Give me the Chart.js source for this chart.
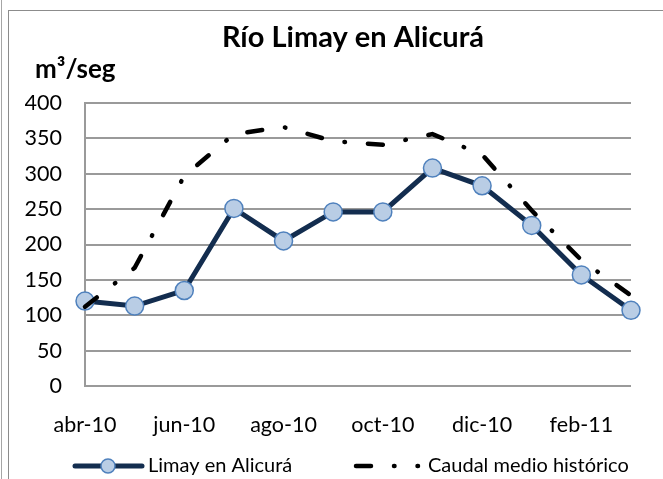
<!DOCTYPE html>
<html>
<head>
<meta charset="utf-8">
<script src="https://cdn.jsdelivr.net/npm/chart.js@4.4.1/dist/chart.umd.min.js"></script>
<style>
    body { margin: 0; background: #fff; }
    #wrap { position: relative; width: 663px; height: 479px; overflow: hidden; }
    .edge { position: absolute; left: 1px; top: 0; width: 1px; height: 479px; background: #a6a6a6; }
    .frame { position: absolute; left: 8px; top: 10px; width: 700px; height: 520px; border: 1.5px solid #8c8c8c; }
    canvas { position: absolute; left: 0; top: 0; }
</style>
</head>
<body>
<div id="wrap">
    <div class="edge"></div>
    <div class="frame"></div>
    <canvas id="chart" width="663" height="479"></canvas>
</div>
<script>
// Monthly flow data (m3/seg)
const months = ['abr-10', 'may-10', 'jun-10', 'jul-10', 'ago-10', 'sep-10',
                'oct-10', 'nov-10', 'dic-10', 'ene-11', 'feb-11', 'mar-11'];
const limayValues = [120, 113, 135, 251, 205, 246, 246, 308, 283, 227, 157, 107];
const historicValues = [112, 167, 297, 356, 366, 346, 341, 356, 327, 248, 178, 128];
const xTickLabels = ['abr-10', 'jun-10', 'ago-10', 'oct-10', 'dic-10', 'feb-11'];
const yTickValues = [0, 50, 100, 150, 200, 250, 300, 350, 400];

const chartTitle = 'Río Limay en Alicurá';
const unitLabel = 'm³/seg';
const limayName = 'Limay en Alicurá';
const historicName = 'Caudal medio histórico';

const navy = '#132d4f';
const histDash = [15, 23, 0.5, 23];
const fontFamily = 'Lato, "Open Sans", sans-serif';

// Title, unit label and legend are drawn by hand to sit where the original has them
const decorPlugin = {
    id: 'decor',
    afterDraw(chart) {
        const ctx = chart.ctx;
        ctx.save();
        ctx.fillStyle = '#000';
        ctx.textBaseline = 'alphabetic';

        ctx.font = 'bold 29px ' + fontFamily;
        ctx.textAlign = 'center';
        ctx.fillText(chartTitle, 353, 47);

        ctx.font = 'bold 26px ' + fontFamily;
        ctx.textAlign = 'left';
        ctx.fillText(unitLabel, 35, 78);

        // legend item 1
        const ly = 466;
        ctx.strokeStyle = navy;
        ctx.lineWidth = 5;
        ctx.lineCap = 'round';
        ctx.beginPath();
        ctx.moveTo(75, ly);
        ctx.lineTo(142, ly);
        ctx.stroke();
        ctx.beginPath();
        ctx.arc(108, ly, 7, 0, Math.PI * 2);
        ctx.fillStyle = '#b9cde5';
        ctx.fill();
        ctx.lineWidth = 1.5;
        ctx.strokeStyle = '#4f81bd';
        ctx.stroke();

        // legend item 2
        ctx.strokeStyle = '#000';
        ctx.lineWidth = 4.5;
        ctx.setLineDash(histDash);
        ctx.beginPath();
        ctx.moveTo(356, ly);
        ctx.lineTo(418, ly);
        ctx.stroke();
        ctx.setLineDash([]);

        ctx.fillStyle = '#000';
        ctx.font = '20px ' + fontFamily;
        ctx.textBaseline = 'middle';
        ctx.fillText(limayName, 148, ly);
        ctx.fillText(historicName, 428, ly);
        ctx.restore();
    }
};

const ctx = document.getElementById('chart').getContext('2d');
const chart = new Chart(ctx, {
    type: 'line',
    data: {
        labels: months,
        datasets: [{
            label: limayName,
            data: limayValues,
            borderColor: navy,
            borderWidth: 5,
            pointRadius: 9,
            pointBackgroundColor: '#b9cde5',
            pointBorderColor: '#4f81bd',
            pointBorderWidth: 1.5,
            tension: 0,
            clip: false,
            order: 1
        }, {
            label: historicName,
            data: historicValues,
            borderColor: '#000',
            borderWidth: 4.5,
            borderDash: histDash,
            borderCapStyle: 'round',
            pointRadius: 0,
            tension: 0,
            clip: false,
            order: 0
        }]
    },
    options: {
        responsive: false,
        animation: false,
        layout: {
            padding: { left: 25, right: 32, top: 103, bottom: 0 }
        },
        scales: {
            x: {
                offset: false,
                grid: { display: false, drawTicks: false },
                border: { display: false },
                ticks: {
                    autoSkip: false,
                    maxRotation: 0,
                    padding: 26,
                    color: '#000',
                    font: { family: fontFamily, size: 21.5 },
                    callback: function (value) {
                        const label = this.getLabelForValue(value);
                        return xTickLabels.includes(label) ? label : null;
                    }
                },
                afterFit: scale => { scale.height = 93; }
            },
            y: {
                min: 0,
                max: 400,
                grid: { color: '#9a9a9a', lineWidth: 2, drawTicks: false },
                border: { display: true, color: '#9a9a9a', width: 2 },
                ticks: {
                    padding: 23,
                    color: '#000',
                    font: { family: fontFamily, size: 21.5 }
                },
                afterBuildTicks: scale => {
                    scale.ticks = yTickValues.map(v => ({ value: v }));
                },
                afterFit: scale => { scale.width = 60; }
            }
        },
        plugins: {
            legend: { display: false },
            title: { display: false },
            tooltip: { enabled: false }
        }
    },
    plugins: [decorPlugin]
});
</script>
</body>
</html>
